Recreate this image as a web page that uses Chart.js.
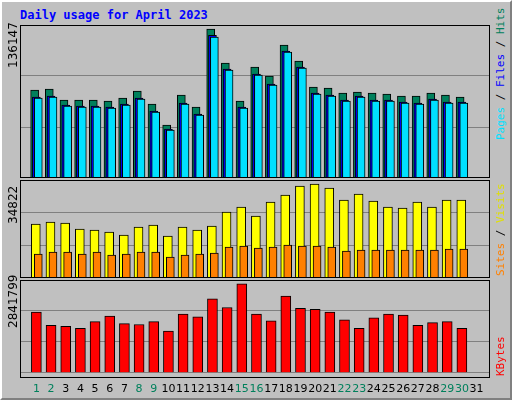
<!DOCTYPE html>
<html>
<head>
<meta charset="utf-8">
<script src="https://cdn.jsdelivr.net/npm/chart.js@4"></script>
<style>
body { margin: 0; }
#frame { position: relative; width: 508px; height: 396px; background: #c0c0c0; border-left: 2px solid #fff; border-top: 2px solid #fff; border-right: 2px solid #808080; border-bottom: 2px solid #808080; font-family: "DejaVu Sans Mono", monospace; }
.title { position: absolute; left: 18px; top: 6px; color: #0000ff; font-weight: bold; font-size: 12px; }
.box { position: absolute; left: 18px; width: 470px; }
.panel { position: absolute; left: 18px; width: 468px; border: 1px solid #000; pointer-events: none; }
.vlab { position: absolute; transform-origin: left top; transform: rotate(-90deg); white-space: nowrap; font-size: 11px; }
</style>
</head>
<body>
<div id="frame">
  <div class="title">Daily usage for April 2023</div>
  <div class="box" style="top:23px;height:153px"><canvas id="c1"></canvas></div>
  <div class="box" style="top:178px;height:98px"><canvas id="c2"></canvas></div>
  <div class="box" style="top:278px;height:118px"><canvas id="c3"></canvas></div>
  <div class="panel" style="top:23px;height:151px"></div>
  <div class="panel" style="top:178px;height:96px"></div>
  <div class="panel" style="top:278px;height:96px"></div>
  <div class="vlab" style="left:4px;top:66px;font-family:'DejaVu Sans';font-size:12px">136147</div>
  <div class="vlab" style="left:4px;top:222px;font-family:'DejaVu Sans';font-size:12px">34822</div>
  <div class="vlab" style="left:4px;top:326px;font-family:'DejaVu Sans';font-size:12px">2841799</div>
  <div class="vlab" style="left:492px;top:138px"><span style="color:#00e0ff">Pages</span> / <span style="color:#0000ff">Files</span> / <span style="color:#00805c">Hits</span></div>
  <div class="vlab" style="left:492px;top:274px"><span style="color:#ff8000">Sites</span> / <span style="color:#e0e000">Visits</span></div>
  <div class="vlab" style="left:492px;top:374px"><span style="color:#ff0000">KBytes</span></div>
</div>
<script>
var days = [1,2,3,4,5,6,7,8,9,10,11,12,13,14,15,16,17,18,19,20,21,22,23,24,25,26,27,28,29,30];
var dayTicks = [1,2,3,4,5,6,7,8,9,10,11,12,13,14,15,16,17,18,19,20,21,22,23,24,25,26,27,28,29,30,31];
var hits = [78320,79210,69420,69420,69420,68530,71200,77430,65860,47170,73870,63190,132610,102350,68530,98790,90780,118370,104130,80990,80100,75650,76540,75650,74760,72980,72980,75650,73870,72090];
var pages = [71200,72090,64080,63190,63190,62300,64970,70310,58740,42720,65860,56070,125490,96120,62300,91670,82770,112140,97900,74760,72980,68530,72090,68530,68530,66750,65860,69420,66750,66750];
var files = [72100,72990,64980,64090,64090,63200,65870,71210,59640,43620,66760,56970,127000,97020,63200,92570,83670,113040,98800,75660,73880,69430,72990,69430,69430,67650,66760,70320,67650,67650];
var visits = [19170,19880,19525,17395,17040,16330,15265,18105,18815,14910,18105,17040,18460,23430,25205,22010,26980,29465,32660,33370,31950,27690,29820,27335,25205,24850,26980,25205,27690,27690];
var sites = [8520,9230,9230,8520,9230,8165,8520,9230,9230,7455,8165,8520,8875,11005,11360,10650,11005,11715,11360,11360,11005,9585,9940,9940,9940,9940,9940,9940,10295,10295];
var kbytes = [1856000,1450000,1421000,1363000,1566000,1740000,1508000,1479000,1566000,1276000,1798000,1711000,2262000,2001000,2726000,1798000,1595000,2349000,1972000,1943000,1856000,1624000,1363000,1682000,1798000,1769000,1450000,1537000,1566000,1363000];
var maxes = [136147, 34822, 2841799];
var weekend = [1,2,8,9,15,16,22,23,29,30];

function pts(vals, off) {
	return vals.map(function (v, i) { return {x: days[i] + off, y: v}; });
}
function bar(label, vals, off, color, w, order) {
	return { label: label, data: pts(vals, off), backgroundColor: color, borderColor: '#000', borderWidth: 1, barThickness: w, order: order, grouped: false };
}
function makeChart(id, datasets, max, showX) {
	new Chart(document.getElementById(id), {
		type: 'bar',
		data: { datasets: datasets },
		options: {
			responsive: true,
			maintainAspectRatio: false,
			animation: false,
			layout: { padding: 0 },
			plugins: { legend: { display: false }, tooltip: { enabled: false } },
			scales: {
				x: {
					type: 'linear', min: 0.4, max: 31.4, display: showX,
					grid: { display: false }, border: { display: false },
					afterBuildTicks: function (scale) {
						scale.ticks = dayTicks.map(function (d) { return {value: d}; });
					},
					ticks: {
						autoSkip: false, maxRotation: 0, padding: 2,
						font: { family: 'DejaVu Sans', size: 11 },
						callback: function (v) { return String(v); },
						color: function (c) { return weekend.indexOf(c.tick.value) >= 0 ? '#00805c' : '#000'; }
					}
				},
				y: {
					min: 0, max: max,
					ticks: { display: false, stepSize: max / 3 },
					grid: { color: '#808080', lineWidth: 1, drawTicks: false },
					border: { display: false }
				}
			}
		}
	});
}
makeChart('c1', [
	bar('Hits', hits, -0.12, '#00805c', 8, 3),
	bar('Files', files, 0.0, '#0000ff', 8, 2),
	bar('Pages', pages, 0.13, '#00e0ff', 8, 1)
], maxes[0], false);
makeChart('c2', [
	bar('Visits', visits, -0.04, '#ffff00', 9, 2),
	bar('Sites', sites, 0.13, '#ff8000', 8, 1)
], maxes[1], false);
makeChart('c3', [
	bar('KBytes', kbytes, 0.0, '#ff0000', 10, 1)
], maxes[2], true);
</script>
</body>
</html>
